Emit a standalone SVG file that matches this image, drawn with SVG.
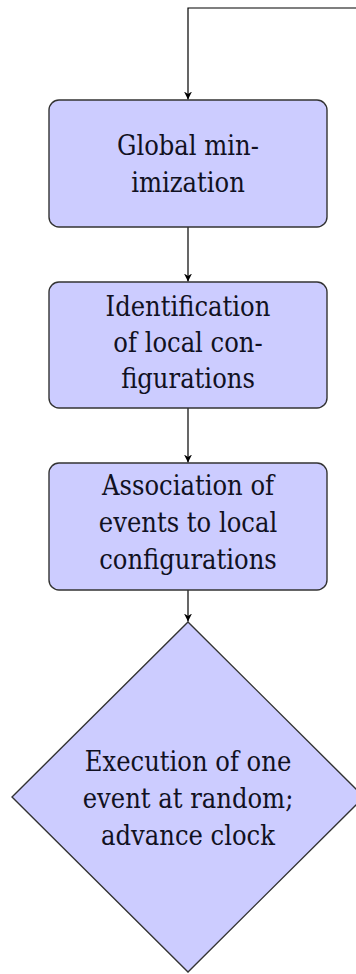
<svg xmlns="http://www.w3.org/2000/svg" width="356" height="974" viewBox="0 0 356 974">
  <style>
    .box { fill: #ccccff; stroke: #333333; stroke-width: 1.4; }
    .lbl { font-family: 'DejaVu Serif Condensed', 'DejaVu Serif', serif; font-stretch: condensed; font-size: 27px; fill: #111122; text-anchor: middle; }
    .wire { fill: none; stroke: #000000; stroke-width: 1.2; }
  </style>
  <defs>
    <marker id="arrow" viewBox="0 0 10 10" refX="10" refY="5" markerWidth="8" markerHeight="8" markerUnits="userSpaceOnUse" orient="auto">
      <path d="M0,0 L10,5 L0,10 L3,5 Z" fill="#000000"/>
    </marker>
  </defs>

  <!-- connectors -->
  <g id="connectors">
    <path class="wire" d="M356,8 H188 V99.5" marker-end="url(#arrow)"/>
    <path class="wire" d="M188,227 V281.5" marker-end="url(#arrow)"/>
    <path class="wire" d="M188,408 V462.5" marker-end="url(#arrow)"/>
    <path class="wire" d="M188,590 V621.5" marker-end="url(#arrow)"/>
  </g>

  <!-- step 1 -->
  <g id="global-minimization">
    <rect class="box" x="49" y="100" width="278" height="127" rx="10" ry="10"/>
    <text class="lbl" x="188" y="155">Global min-</text>
    <text class="lbl" x="188" y="192">imization</text>
  </g>

  <!-- step 2 -->
  <g id="identification">
    <rect class="box" x="49" y="282" width="278" height="126" rx="10" ry="10"/>
    <text class="lbl" x="188" y="316">Identification</text>
    <text class="lbl" x="188" y="352">of local con-</text>
    <text class="lbl" x="188" y="388">figurations</text>
  </g>

  <!-- step 3 -->
  <g id="association">
    <rect class="box" x="49" y="463" width="278" height="127" rx="10" ry="10"/>
    <text class="lbl" x="188" y="495">Association of</text>
    <text class="lbl" x="188" y="532">events to local</text>
    <text class="lbl" x="188" y="569">configurations</text>
  </g>

  <!-- step 4: decision -->
  <g id="execution">
    <polygon class="box" points="188,622 364,797 188,972 12,797"/>
    <text class="lbl" x="188" y="771">Execution of one</text>
    <text class="lbl" x="188" y="808">event at random;</text>
    <text class="lbl" x="188" y="845">advance clock</text>
  </g>
</svg>
